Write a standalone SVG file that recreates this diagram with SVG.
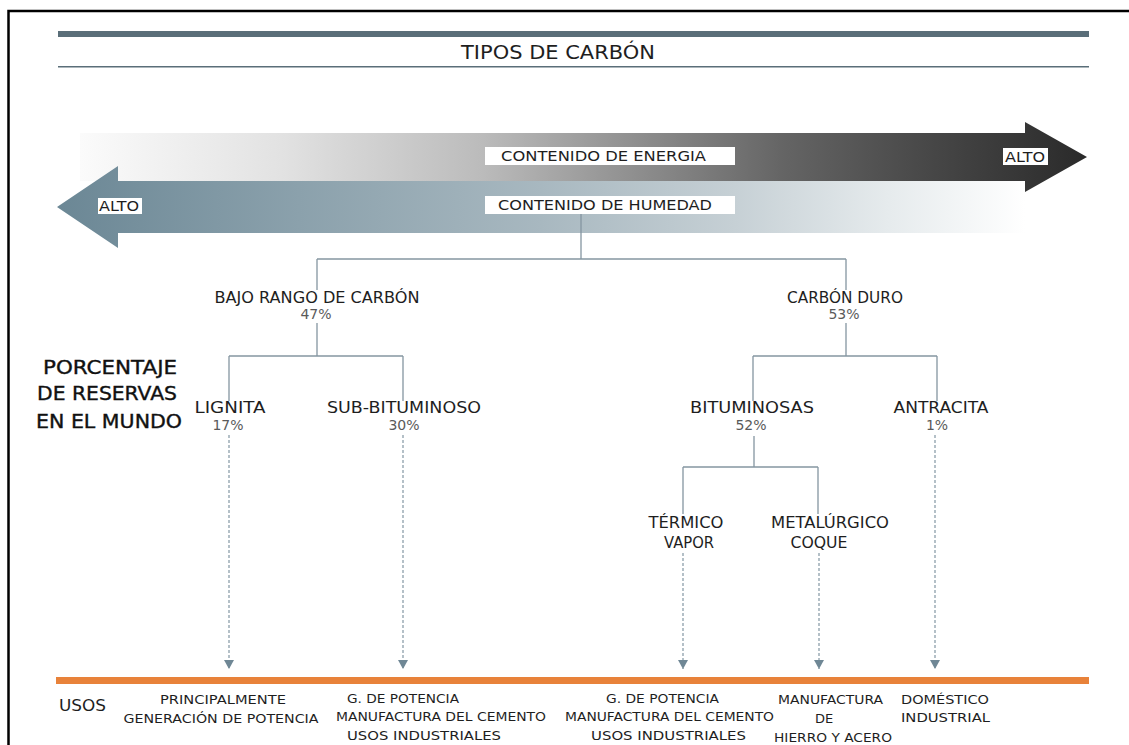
<svg xmlns="http://www.w3.org/2000/svg" width="1129" height="745" viewBox="0 0 1129 745">
  <defs>
    <linearGradient id="energyGrad" gradientUnits="userSpaceOnUse" x1="80" y1="0" x2="1087" y2="0">
      <stop offset="0" stop-color="#fbfbfb"/>
      <stop offset="0.2" stop-color="#e2e2e2"/>
      <stop offset="0.4" stop-color="#bbbbbb"/>
      <stop offset="0.55" stop-color="#8f8f8f"/>
      <stop offset="0.7" stop-color="#646464"/>
      <stop offset="0.85" stop-color="#464646"/>
      <stop offset="1" stop-color="#2a2a2a"/>
    </linearGradient>
    <linearGradient id="humidGrad" gradientUnits="userSpaceOnUse" x1="57" y1="0" x2="1025" y2="0">
      <stop offset="0" stop-color="#6b8795"/>
      <stop offset="0.25" stop-color="#8ba1ac"/>
      <stop offset="0.5" stop-color="#a8b8c0"/>
      <stop offset="0.7" stop-color="#c6d0d5"/>
      <stop offset="0.86" stop-color="#e6ebed"/>
      <stop offset="1" stop-color="#ffffff"/>
    </linearGradient>
    <!-- small solid head for the dashed drop lines, pointing along the path -->
    <marker id="downHead" viewBox="0 0 9 10" refX="9" refY="5" markerWidth="9" markerHeight="10" markerUnits="userSpaceOnUse" orient="auto">
      <path d="M0,0 L9,5 L0,10 Z" fill="#6f8795"/>
    </marker>
  </defs>
  <style>
    .lbl { font-family: "DejaVu Sans", "Liberation Sans", sans-serif; font-size: 15px; fill: #1e1e1e; }
    .pct { font-family: "DejaVu Sans", "Liberation Sans", sans-serif; font-size: 14px; fill: #5a5a5a; }
    .use { font-family: "DejaVu Sans", "Liberation Sans", sans-serif; font-size: 13px; fill: #1e1e1e; }
    .big { font-family: "DejaVu Sans", "Liberation Sans", sans-serif; font-size: 20px; fill: #111; stroke: #111; stroke-width: 0.4; }
    .tree { fill: none; stroke: #8596a1; stroke-width: 1.3; }
    .dash { fill: none; stroke: #8397a3; stroke-width: 1.2; stroke-dasharray: 3 2; }
    .box { fill: #ffffff; }
  </style>

  <!-- frame -->
  <path d="M8.5,745 V11 H1129" fill="none" stroke="#000" stroke-width="2.5"/>

  <!-- header -->
  <g id="header">
    <rect x="58" y="31" width="1031" height="6" fill="#5a6e79"/>
    <text x="558" y="59" text-anchor="middle" class="lbl" style="font-size:19px" textLength="194" lengthAdjust="spacingAndGlyphs">TIPOS DE CARBÓN</text>
    <rect x="58" y="66" width="1031" height="1.5" fill="#5a6e79"/>
  </g>

  <!-- scale arrows -->
  <g id="energy-arrow">
    <path d="M80,133 H1025 V122 L1087,157 L1025,192 V181 H80 Z" fill="url(#energyGrad)"/>
    <rect class="box" x="485" y="147" width="250" height="18"/>
    <text x="501" y="161" class="lbl" style="font-size:14px" textLength="205" lengthAdjust="spacingAndGlyphs">CONTENIDO DE ENERGIA</text>
    <rect class="box" x="1003" y="148" width="45" height="17"/>
    <text x="1005" y="162" class="lbl" style="font-size:14px" textLength="40" lengthAdjust="spacingAndGlyphs">ALTO</text>
  </g>
  <g id="humidity-arrow">
    <path d="M1025,181 H118 V166 L57,207 L118,248 V233 H1025 Z" fill="url(#humidGrad)"/>
    <rect class="box" x="485" y="196" width="250" height="18"/>
    <text x="498" y="210" class="lbl" style="font-size:14px" textLength="214" lengthAdjust="spacingAndGlyphs">CONTENIDO DE HUMEDAD</text>
    <rect class="box" x="98" y="198" width="44" height="16"/>
    <text x="99" y="211" class="lbl" style="font-size:14px" textLength="40" lengthAdjust="spacingAndGlyphs">ALTO</text>
  </g>

  <!-- connectors -->
  <g id="connectors">
    <path class="tree" d="M581,214 V259 M317,259 H846 M317,259 V290 M846,259 V290"/>
    <path class="tree" d="M317,323 V356 M229,356 H403 M229,356 V401 M403,356 V401"/>
    <path class="tree" d="M846,323 V356 M753,356 H937 M753,356 V401 M937,356 V401"/>
    <path class="tree" d="M754,436 V467 M683,467 H818 M683,467 V514 M818,467 V514"/>
    <path class="dash" d="M229,435 V669" marker-end="url(#downHead)"/>
    <path class="dash" d="M403,435 V669" marker-end="url(#downHead)"/>
    <path class="dash" d="M683,553 V669" marker-end="url(#downHead)"/>
    <path class="dash" d="M819,553 V669" marker-end="url(#downHead)"/>
    <path class="dash" d="M935,435 V669" marker-end="url(#downHead)"/>
  </g>

  <!-- tree nodes -->
  <g id="node-bajo-rango">
    <text x="317" y="303" text-anchor="middle" class="lbl" textLength="205" lengthAdjust="spacingAndGlyphs">BAJO RANGO DE CARBÓN</text>
    <text x="316" y="319" text-anchor="middle" class="pct">47%</text>
  </g>
  <g id="node-carbon-duro">
    <text x="845" y="303" text-anchor="middle" class="lbl" textLength="116" lengthAdjust="spacingAndGlyphs">CARBÓN DURO</text>
    <text x="844" y="319" text-anchor="middle" class="pct">53%</text>
  </g>
  <g id="node-lignita">
    <text x="230" y="413" text-anchor="middle" class="lbl" textLength="71" lengthAdjust="spacingAndGlyphs">LIGNITA</text>
    <text x="228" y="430" text-anchor="middle" class="pct">17%</text>
  </g>
  <g id="node-sub-bituminoso">
    <text x="404" y="413" text-anchor="middle" class="lbl" textLength="154" lengthAdjust="spacingAndGlyphs">SUB-BITUMINOSO</text>
    <text x="404" y="430" text-anchor="middle" class="pct">30%</text>
  </g>
  <g id="node-bituminosas">
    <text x="752" y="413" text-anchor="middle" class="lbl" textLength="124" lengthAdjust="spacingAndGlyphs">BITUMINOSAS</text>
    <text x="751" y="430" text-anchor="middle" class="pct">52%</text>
  </g>
  <g id="node-antracita">
    <text x="941" y="413" text-anchor="middle" class="lbl" textLength="95" lengthAdjust="spacingAndGlyphs">ANTRACITA</text>
    <text x="937" y="430" text-anchor="middle" class="pct">1%</text>
  </g>
  <g id="node-termico">
    <text x="686" y="528" text-anchor="middle" class="lbl" textLength="75" lengthAdjust="spacingAndGlyphs">TÉRMICO</text>
    <text x="689" y="548" text-anchor="middle" class="lbl" textLength="50" lengthAdjust="spacingAndGlyphs">VAPOR</text>
  </g>
  <g id="node-metalurgico">
    <text x="830" y="528" text-anchor="middle" class="lbl" textLength="118" lengthAdjust="spacingAndGlyphs">METALÚRGICO</text>
    <text x="819" y="548" text-anchor="middle" class="lbl" textLength="57" lengthAdjust="spacingAndGlyphs">COQUE</text>
  </g>

  <!-- side caption -->
  <g id="reserves-caption">
    <text x="110" y="374" text-anchor="middle" class="big" textLength="134" lengthAdjust="spacingAndGlyphs">PORCENTAJE</text>
    <text x="107" y="400" text-anchor="middle" class="big" textLength="140" lengthAdjust="spacingAndGlyphs">DE RESERVAS</text>
    <text x="109" y="428" text-anchor="middle" class="big" textLength="146" lengthAdjust="spacingAndGlyphs">EN EL MUNDO</text>
  </g>

  <!-- uses bar -->
  <g id="uses-bar">
    <rect x="56" y="677" width="1033" height="7" fill="#e8823a"/>
    <text x="59" y="711" class="lbl" textLength="47" lengthAdjust="spacingAndGlyphs">USOS</text>
  </g>
  <g id="use-lignita">
    <text x="223" y="704" text-anchor="middle" class="use" textLength="126" lengthAdjust="spacingAndGlyphs">PRINCIPALMENTE</text>
    <text x="221" y="723" text-anchor="middle" class="use" textLength="195" lengthAdjust="spacingAndGlyphs">GENERACIÓN DE POTENCIA</text>
  </g>
  <g id="use-sub-bituminoso">
    <text x="347" y="703" class="use" textLength="112" lengthAdjust="spacingAndGlyphs">G. DE POTENCIA</text>
    <text x="336" y="721" class="use" textLength="210" lengthAdjust="spacingAndGlyphs">MANUFACTURA DEL CEMENTO</text>
    <text x="347" y="740" class="use" textLength="154" lengthAdjust="spacingAndGlyphs">USOS INDUSTRIALES</text>
  </g>
  <g id="use-termico">
    <text x="606" y="703" class="use" textLength="113" lengthAdjust="spacingAndGlyphs">G. DE POTENCIA</text>
    <text x="565" y="721" class="use" textLength="209" lengthAdjust="spacingAndGlyphs">MANUFACTURA DEL CEMENTO</text>
    <text x="591" y="740" class="use" textLength="155" lengthAdjust="spacingAndGlyphs">USOS INDUSTRIALES</text>
  </g>
  <g id="use-metalurgico">
    <text x="778" y="704" class="use" textLength="105" lengthAdjust="spacingAndGlyphs">MANUFACTURA</text>
    <text x="824" y="723" text-anchor="middle" class="use">DE</text>
    <text x="774" y="742" class="use" textLength="118" lengthAdjust="spacingAndGlyphs">HIERRO Y ACERO</text>
  </g>
  <g id="use-antracita">
    <text x="901" y="704" class="use" textLength="88" lengthAdjust="spacingAndGlyphs">DOMÉSTICO</text>
    <text x="901" y="722" class="use" textLength="89" lengthAdjust="spacingAndGlyphs">INDUSTRIAL</text>
  </g>
</svg>
